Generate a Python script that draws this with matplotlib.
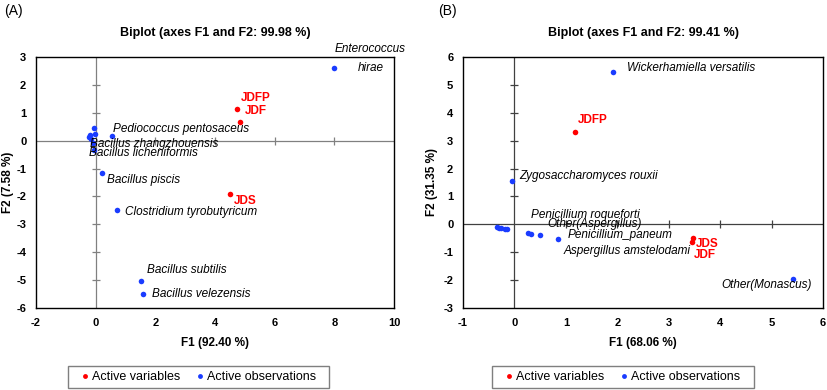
import matplotlib
matplotlib.use("Agg")
import matplotlib.pyplot as plt
from matplotlib.lines import Line2D
from matplotlib.patches import Rectangle

plt.rcParams['font.family'] = ['Liberation Sans', 'DejaVu Sans']
plt.rcParams['axes.unicode_minus'] = False

# ---------------- Panel A data ----------------
varA_names = ['JDFP', 'JDF', 'JDS']
varA_f1 = [4.74, 4.85, 4.49]
varA_f2 = [1.15, 0.66, -1.92]

obsA_names = ['Enterococcus\nhirae', 'Pediococcus pentosaceus', 'Bacillus zhangzhouensis',
              'Bacillus licheniformis', 'Bacillus piscis', 'Clostridium tyrobutyricum',
              'Bacillus subtilis', 'Bacillus velezensis', '', '', '', '', '']
obsA_f1 = [7.98, 0.56, -0.09, -0.07, 0.22, 0.73, 1.52, 1.58, -0.07, -0.02, -0.20, -0.24, -0.17]
obsA_f2 = [2.60, 0.16, -0.10, -0.35, -1.15, -2.48, -5.02, -5.49, 0.45, 0.24, 0.20, 0.13, 0.05]

# ---------------- Panel B data ----------------
varB_names = ['JDFP', 'JDS', 'JDF']
varB_f1 = [1.18, 3.47, 3.45]
varB_f2 = [3.31, -0.48, -0.62]

obsB_names = ['Wickerhamiella versatilis', 'Zygosaccharomyces rouxii', 'Penicillium roqueforti',
              'Other(Aspergillus)', 'Penicillium_paneum', 'Aspergillus amstelodami',
              'Other(Monascus)', '', '', '', '', '']
obsB_f1 = [1.92, -0.04, 0.26, 0.32, 0.49, 0.85, 5.42, -0.33, -0.30, -0.26, -0.19, -0.15]
obsB_f2 = [5.48, 1.54, -0.32, -0.33, -0.38, -0.52, -1.97, -0.10, -0.12, -0.14, -0.16, -0.17]

# label anchor positions (layout)
varA_lab = [(4.88, 1.52), (4.99, 1.06), (4.62, -2.16)]
obsA_lab = [(9.21, 2.95), (0.59, 0.43), (-0.19, -0.12), (-0.24, -0.43), (0.37, -1.41),
            (0.99, -2.54), (1.71, -4.63), (1.89, -5.49)]
varB_lab = [(1.24, 3.73), (3.53, -0.71), (3.49, -1.10)]
obsB_lab = [(2.18, 5.60), (0.10, 1.73), (0.33, 0.35), (0.65, 0.00), (1.03, -0.39),
            (0.95, -0.95), (4.03, -2.18)]

W, H = 827, 390
fig = plt.figure(figsize=(W / 100, H / 100), dpi=100)

RED = '#FF0000'
BLUE = '#1A3CFF'


def draw_panel(px, title, xlabel, ylabel, xlim, ylim, xticks, yticks,
               vnames, vf1, vf2, vlab, onames, of1, of2, olab, zcol, tag, tagx,
               legbox, ylab_x):
    x0, x1, y0, y1 = px
    ax_rect = [x0 / W, 1 - y1 / H, (x1 - x0) / W, (y1 - y0) / H]
    ax = fig.add_axes(ax_rect)
    ax.set_xlim(*xlim)
    ax.set_ylim(*ylim)
    ax.set_xticks(xticks)
    ax.set_yticks(yticks)
    ax.tick_params(length=0, labelsize=8, pad=7)
    for lbl in ax.get_xticklabels() + ax.get_yticklabels():
        lbl.set_fontweight('bold')
    for s in ax.spines.values():
        s.set_linewidth(1.0)
        s.set_color('black')
    ax.axhline(0, color=zcol, lw=0.9, zorder=1)
    ax.axvline(0, color=zcol, lw=0.9, zorder=1)
    xt = [t for t in xticks if t != 0 and xlim[0] < t < xlim[1]]
    yt = [t for t in yticks if t != 0 and ylim[0] < t < ylim[1]]
    ax.plot(xt, [0] * len(xt), linestyle='none', marker='|', ms=6, mew=0.9, color=zcol, zorder=1)
    ax.plot([0] * len(yt), yt, linestyle='none', marker='_', ms=6, mew=0.9, color=zcol, zorder=1)

    ax.plot(of1, of2, linestyle='none', marker='o', ms=4, color=BLUE, mec='none', zorder=3)
    ax.plot(vf1, vf2, linestyle='none', marker='o', ms=4, color=RED, mec='none', zorder=3)

    for name, (lx, ly) in zip(vnames, vlab):
        ax.text(lx, ly, name, color=RED, fontsize=8.5, fontweight='bold',
                ha='left', va='center', zorder=4)
    for name, (lx, ly) in zip([n for n in onames if n], olab):
        if '\n' in name:
            ax.text(lx, ly, name, color='black', fontsize=8.5, style='italic',
                    ha='center', va='center', multialignment='center',
                    linespacing=1.75, zorder=4, clip_on=False)
        else:
            ax.text(lx, ly, name, color='black', fontsize=8.5, style='italic',
                    ha='left', va='center', zorder=4, clip_on=False)

    cx = (x0 + x1) / 2 / W
    fig.text(cx, 1 - 33 / H, title, ha='center', va='center', fontsize=9, fontweight='bold')
    ax.set_xlabel(xlabel, fontsize=8.5, fontweight='bold')
    ax.set_ylabel(ylabel, fontsize=8.5, fontweight='bold')
    ax.xaxis.set_label_coords(0.5, (y1 - 337) / (y1 - y0))
    ax.yaxis.set_label_coords((ylab_x - x0) / (x1 - x0), 0.5)
    fig.text(tagx / W, 1 - 11 / H, tag, ha='left', va='center', fontsize=10)

    lx0, lx1, ly0, ly1 = legbox
    fig.patches.append(Rectangle((lx0 / W, 1 - ly1 / H), (lx1 - lx0) / W, (ly1 - ly0) / H,
                                 transform=fig.transFigure, fill=False,
                                 edgecolor='#7f7f7f', lw=1.0))
    handles = [Line2D([], [], linestyle='none', marker='o', ms=3.5, color=RED, mec='none'),
               Line2D([], [], linestyle='none', marker='o', ms=3.5, color=BLUE, mec='none')]
    fig.legend(handles, ['Active variables', 'Active observations'], ncol=2,
               loc='center', bbox_to_anchor=((lx0 + lx1) / 2 / W, 1 - (ly0 + ly1) / 2 / H),
               fontsize=9, frameon=False, handlelength=0.6,
               handletextpad=0.25, columnspacing=1.3, borderpad=0.2)
    return ax


draw_panel((36, 394, 57, 308),
           'Biplot (axes F1 and F2: 99.98 %)', 'F1 (92.40 %)', 'F2 (7.58 %)',
           (-2, 10), (-6, 3), list(range(-2, 11, 2)), list(range(-6, 4)),
           varA_names, varA_f1, varA_f2, varA_lab,
           obsA_names, obsA_f1, obsA_f2, obsA_lab, '#808080', '(A)', 4,
           (68, 329, 366, 388), 14)

draw_panel((463, 823, 57, 308),
           'Biplot (axes F1 and F2: 99.41 %)', 'F1 (68.06 %)', 'F2 (31.35 %)',
           (-1, 6), (-3, 6), list(range(-1, 7)), list(range(-3, 7)),
           varB_names, varB_f1, varB_f2, varB_lab,
           obsB_names, obsB_f1, obsB_f2, obsB_lab, '#404040', '(B)', 438,
           (492, 754, 366, 388), 438)

fig.savefig('out.png', dpi=100)
